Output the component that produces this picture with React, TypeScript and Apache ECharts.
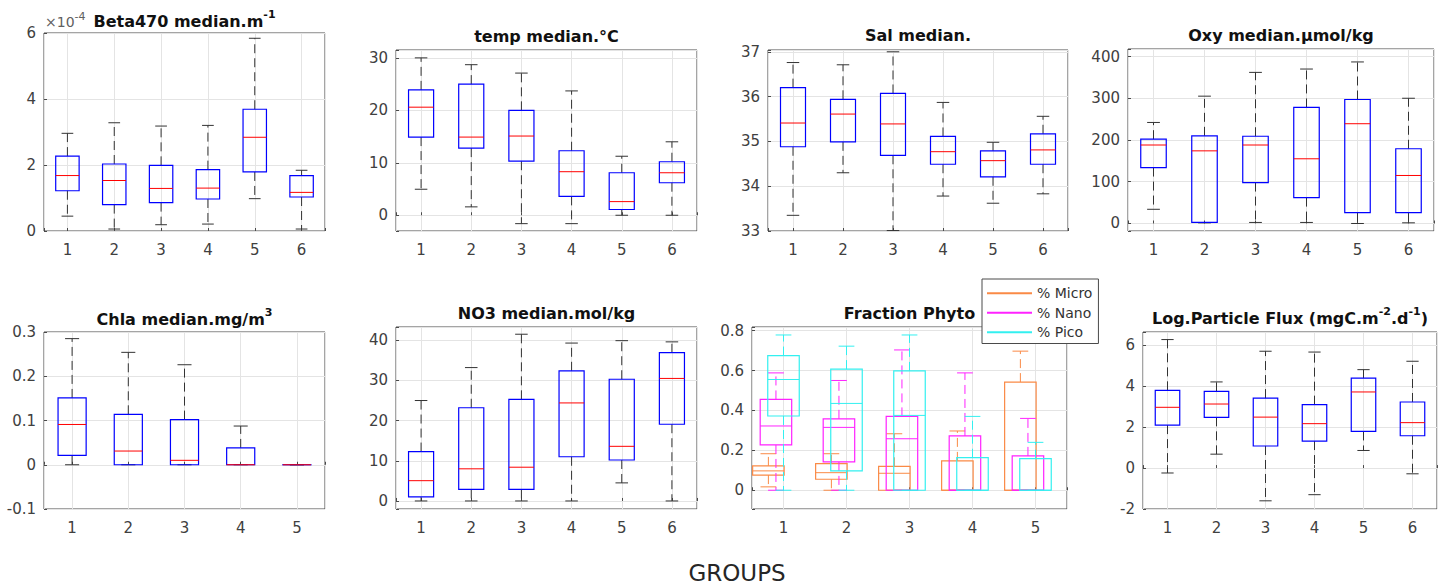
import React, { useEffect, useRef } from "react";
import * as echarts from "echarts";

const FONT = "'DejaVu Sans', 'Liberation Sans', sans-serif";

// categories
const groups6 = [1, 2, 3, 4, 5, 6];
const groups5 = [1, 2, 3, 4, 5];

// each row: [lower whisker, Q1, median, Q3, upper whisker]
const beta470 = [
  [0.45, 1.22, 1.68, 2.27, 2.96],
  [0.06, 0.8, 1.53, 2.03, 3.28],
  [0.19, 0.86, 1.29, 1.99, 3.18],
  [0.21, 0.97, 1.3, 1.86, 3.2],
  [0.98, 1.79, 2.84, 3.69, 5.84],
  [0.06, 1.03, 1.17, 1.68, 1.84],
];
const temp = [
  [4.96, 14.9, 20.6, 23.9, 30.0],
  [1.6, 12.8, 14.9, 25.0, 28.7],
  [-1.6, 10.3, 15.1, 20.0, 27.1],
  [-1.6, 3.6, 8.3, 12.3, 23.7],
  [0, 1.1, 2.6, 8.1, 11.25],
  [0, 6.2, 8.1, 10.2, 14.0],
];
const sal = [
  [33.35, 34.88, 35.41, 36.2, 36.76],
  [34.3, 34.99, 35.61, 35.94, 36.71],
  [33.01, 34.69, 35.39, 36.07, 37.0],
  [33.78, 34.49, 34.77, 35.11, 35.87],
  [33.62, 34.21, 34.57, 34.79, 34.98],
  [33.83, 34.49, 34.81, 35.17, 35.56],
];
const oxy = [
  [34, 134, 188, 202, 242],
  [1.5, 2.5, 174, 210, 305],
  [2.5, 98, 188, 209, 362],
  [2.5, 62, 155, 278, 370],
  [0, 26, 239, 297, 387],
  [1.6, 26, 115, 179, 300],
];
const chla = [
  [0, 0.021, 0.091, 0.151, 0.285],
  [0, 0, 0.031, 0.114, 0.254],
  [0, 0, 0.01, 0.102, 0.226],
  [0, 0, 0, 0.038, 0.0875],
  [0, 0, 0, 0, 0],
];
const no3 = [
  [0, 1.0, 5.05, 12.3, 25.0],
  [0, 2.9, 8.0, 23.2, 33.2],
  [0, 2.9, 8.4, 25.3, 41.5],
  [0, 11.0, 24.4, 32.4, 39.3],
  [4.5, 10.2, 13.6, 30.3, 39.9],
  [0, 19.1, 30.5, 36.9, 39.6],
];
const micro = [
  [0.017, 0.076, 0.097, 0.122, 0.183],
  [0, 0.055, 0.088, 0.133, 0.183],
  [0, 0, 0.085, 0.12, 0.283],
  [0, 0, 0, 0.147, 0.297],
  [0, 0, 0, 0.542, 0.697],
];
const nano = [
  [0, 0.227, 0.322, 0.455, 0.588],
  [0, 0.142, 0.315, 0.358, 0.55],
  [0, 0, 0.258, 0.37, 0.703],
  [0, 0, 0, 0.272, 0.588],
  [0, 0, 0, 0.172, 0.36],
];
const pico = [
  [0, 0.372, 0.555, 0.675, 0.778],
  [0, 0.097, 0.435, 0.607, 0.722],
  [0, 0, 0.375, 0.598, 0.778],
  [0, 0, 0, 0.163, 0.37],
  [0, 0, 0, 0.158, 0.24],
];
const flux = [
  [-0.24, 2.1, 2.97, 3.8, 6.28],
  [0.68, 2.48, 3.13, 3.75, 4.21],
  [-1.6, 1.08, 2.49, 3.42, 5.71],
  [-1.3, 1.32, 2.17, 3.1, 5.67],
  [0.86, 1.79, 3.72, 4.4, 4.81],
  [-0.28, 1.58, 2.22, 3.23, 5.22],
];

const phytoNames = ["% Micro", "% Nano", "% Pico"];

type SeriesDef = {
  name: string;
  data: number[][];
  offset: number;
  box: string;
  median: string;
  whisker: string;
};
type PanelDef = {
  title: string;
  cx: number;
  cy: number;
  grid: { left: number; top: number; width: number; height: number };
  cats: number[];
  ymin: number;
  ymax: number;
  step: number;
  series: SeriesDef[];
};

const std = (name: string, data: number[][]): SeriesDef[] => [
  { name, data, offset: 0, box: "#0000ff", median: "#ff0000", whisker: "#333333" },
];

const panels: PanelDef[] = [
  {
    title: "{t|Beta470 median.m}{s|-1}",
    cx: 184.5, cy: 21.5,
    grid: { left: 44, top: 33, width: 281, height: 198 },
    cats: groups6, ymin: 0, ymax: 6, step: 2,
    series: std("Beta470", beta470),
  },
  {
    title: "{t|temp median.°C}",
    cx: 546.5, cy: 36.5,
    grid: { left: 396, top: 50, width: 301, height: 181 },
    cats: groups6, ymin: -3, ymax: 31.5, step: 10,
    series: std("temp", temp),
  },
  {
    title: "{t|Sal median.}",
    cx: 918, cy: 35.5,
    grid: { left: 768, top: 50, width: 300, height: 181 },
    cats: groups6, ymin: 33, ymax: 37.04, step: 1,
    series: std("Sal", sal),
  },
  {
    title: "{t|Oxy median.μmol/kg}",
    cx: 1281, cy: 35,
    grid: { left: 1128, top: 49, width: 306, height: 182 },
    cats: groups6, ymin: -18, ymax: 418, step: 100,
    series: std("Oxy", oxy),
  },
  {
    title: "{t|Chla median.mg/m}{s|3}",
    cx: 184.5, cy: 319,
    grid: { left: 44, top: 332, width: 281, height: 177 },
    cats: groups5, ymin: -0.1, ymax: 0.3, step: 0.1,
    series: std("Chla", chla),
  },
  {
    title: "{t|NO3 median.mol/kg}",
    cx: 546.5, cy: 313,
    grid: { left: 396, top: 327, width: 301, height: 182 },
    cats: groups6, ymin: -2, ymax: 43.3, step: 10,
    series: std("NO3", no3),
  },
  {
    title: "{t|Fraction Phyto}",
    cx: 909.5, cy: 313,
    grid: { left: 752, top: 327, width: 315, height: 182 },
    cats: groups5, ymin: -0.094, ymax: 0.818, step: 0.2,
    series: [
      { name: phytoNames[0], data: micro, offset: -0.24, box: "#fa8a46", median: "#fa8a46", whisker: "#fa8a46" },
      { name: phytoNames[1], data: nano, offset: -0.12, box: "#ff22ff", median: "#ff22ff", whisker: "#ff22ff" },
      { name: phytoNames[2], data: pico, offset: 0, box: "#33f0f0", median: "#33f0f0", whisker: "#33f0f0" },
    ],
  },
  {
    title: "{t|Log.Particle Flux (mgC.m}{s|-2}{t|.d}{s|-1}{t|)}",
    cx: 1290, cy: 318,
    grid: { left: 1143, top: 332, width: 294, height: 177 },
    cats: groups6, ymin: -2, ymax: 6.65, step: 2,
    series: std("Flux", flux),
  },
];

const fmtStep = (step: number) => (v: number) => {
  const r = v / step;
  if (Math.abs(r - Math.round(r)) > 1e-6) return "";
  return String(parseFloat(v.toFixed(4)));
};

const makeRender = (s: SeriesDef) => (params: any, api: any) => {
  const x = api.value(0) + s.offset;
  const lo = api.value(1);
  const q1 = api.value(2);
  const md = api.value(3);
  const q3 = api.value(4);
  const hi = api.value(5);
  const hw = 0.25;
  const cw = 0.125;
  const c = (xx: number, yy: number) => api.coord([xx, yy]);
  const pLo = c(x, lo), pQ1 = c(x, q1), pQ3 = c(x, q3), pHi = c(x, hi);
  const bl = c(x - hw, q3), br = c(x + hw, q1);
  const ml = c(x - hw, md), mr = c(x + hw, md);
  const chl = c(x - cw, hi), chr = c(x + cw, hi);
  const cll = c(x - cw, lo), clr = c(x + cw, lo);
  const dash = { stroke: s.whisker, lineWidth: 1, lineDash: [9, 5], fill: null };
  const solid = (col: string) => ({ stroke: col, lineWidth: 1, fill: null });
  return {
    type: "group",
    children: [
      { type: "line", shape: { x1: pQ3[0], y1: pQ3[1], x2: pHi[0], y2: pHi[1] }, style: dash },
      { type: "line", shape: { x1: pQ1[0], y1: pQ1[1], x2: pLo[0], y2: pLo[1] }, style: dash },
      { type: "line", shape: { x1: chl[0], y1: chl[1], x2: chr[0], y2: chr[1] }, style: solid(s.whisker) },
      { type: "line", shape: { x1: cll[0], y1: cll[1], x2: clr[0], y2: clr[1] }, style: solid(s.whisker) },
      {
        type: "rect",
        shape: { x: bl[0], y: bl[1], width: br[0] - bl[0], height: Math.max(br[1] - bl[1], 0.01) },
        style: { stroke: s.box, lineWidth: 1.2, fill: "none" },
      },
      { type: "line", shape: { x1: ml[0], y1: ml[1], x2: mr[0], y2: mr[1] }, style: solid(s.median) },
    ],
  };
};

export default function App() {
  const ref = useRef<HTMLDivElement>(null);
  useEffect(() => {
    if (!ref.current) return;
    const chart = echarts.init(ref.current, null, { renderer: "svg" });
    const grids = panels.map((p) => ({
      ...p.grid,
      show: true,
      borderColor: "#4a4a4a",
      borderWidth: 1,
      backgroundColor: "#ffffff",
    }));
    const xAxes = panels.map((p, i) => ({
      type: "value",
      gridIndex: i,
      min: 0.5,
      max: p.cats.length + 0.5,
      minInterval: 1,
      maxInterval: 1,
      axisLine: { show: false },
      axisTick: { show: true, inside: true, length: 3, lineStyle: { color: "#4a4a4a" } },
      axisLabel: {
        formatter: fmtStep(1),
        fontSize: 15,
        color: "#404040",
        fontFamily: FONT,
        margin: 11,
      },
      splitLine: { show: true, lineStyle: { color: "#e4e4e4", width: 1 } },
    }));
    const yAxes = panels.map((p, i) => ({
      type: "value",
      gridIndex: i,
      min: p.ymin,
      max: p.ymax,
      minInterval: p.step,
      maxInterval: p.step,
      axisLine: { show: false },
      axisTick: { show: true, inside: true, length: 3, lineStyle: { color: "#4a4a4a" } },
      axisLabel: {
        formatter: fmtStep(p.step),
        fontSize: 15,
        color: "#404040",
        fontFamily: FONT,
        margin: 8,
      },
      splitLine: { show: true, lineStyle: { color: "#e4e4e4", width: 1 } },
    }));
    const series: any[] = [];
    panels.forEach((p, i) => {
      p.series.forEach((s) => {
        series.push({
          type: "custom",
          name: s.name,
          xAxisIndex: i,
          yAxisIndex: i,
          silent: true,
          clip: false,
          itemStyle: { color: s.box },
          encode: { x: 0, y: [1, 2, 3, 4, 5] },
          data: p.cats.map((c, k) => [c, ...s.data[k]]),
          renderItem: makeRender(s),
        });
      });
    });
    const titleRich = {
      t: { fontSize: 16, fontWeight: "bold", fontFamily: FONT, fill: "#111111", lineHeight: 18 },
      s: { fontSize: 11, fontWeight: "bold", fontFamily: FONT, fill: "#111111", lineHeight: 11, padding: [0, 0, 14, 0] },
    };
    const graphics: any[] = panels.map((p) => ({
      type: "text",
      x: p.cx,
      y: p.cy,
      silent: true,
      style: {
        text: p.title,
        rich: titleRich,
        align: "center",
        verticalAlign: "middle",
        fill: "#111111",
      },
    }));
    graphics.push({
      type: "text",
      x: 45,
      y: 22,
      silent: true,
      style: {
        text: "{a|×10}{b|-4}",
        rich: {
          a: { fontSize: 14, fontFamily: FONT, fill: "#606060", lineHeight: 15 },
          b: { fontSize: 11, fontFamily: FONT, fill: "#606060", lineHeight: 11, padding: [0, 0, 12, 0] },
        },
        align: "left",
        verticalAlign: "middle",
      },
    });
    graphics.push({
      type: "text",
      x: 737,
      y: 573,
      silent: true,
      style: {
        text: "GROUPS",
        fontSize: 23,
        fontFamily: FONT,
        fill: "#262626",
        align: "center",
        verticalAlign: "middle",
      },
    });
    chart.setOption({
      animation: false,
      backgroundColor: "#ffffff",
      grid: grids,
      xAxis: xAxes,
      yAxis: yAxes,
      series,
      legend: {
        data: phytoNames.map((n) => ({ name: n, icon: "rect" })),
        orient: "vertical",
        left: 982,
        top: 279,
        itemWidth: 45,
        itemHeight: 2,
        itemGap: 5,
        padding: [7, 6, 4, 5],
        backgroundColor: "#ffffff",
        borderColor: "#4a4a4a",
        borderWidth: 1,
        borderRadius: 0,
        selectedMode: false,
        textStyle: { fontSize: 14, color: "#333333", fontFamily: FONT, lineHeight: 14.5 },
      },
      graphic: graphics,
    });
    return () => chart.dispose();
  }, []);
  return (
    <div
      ref={ref}
      style={{ position: "fixed", left: 0, top: 0, width: 1446, height: 587, background: "#fff" }}
    />
  );
}
